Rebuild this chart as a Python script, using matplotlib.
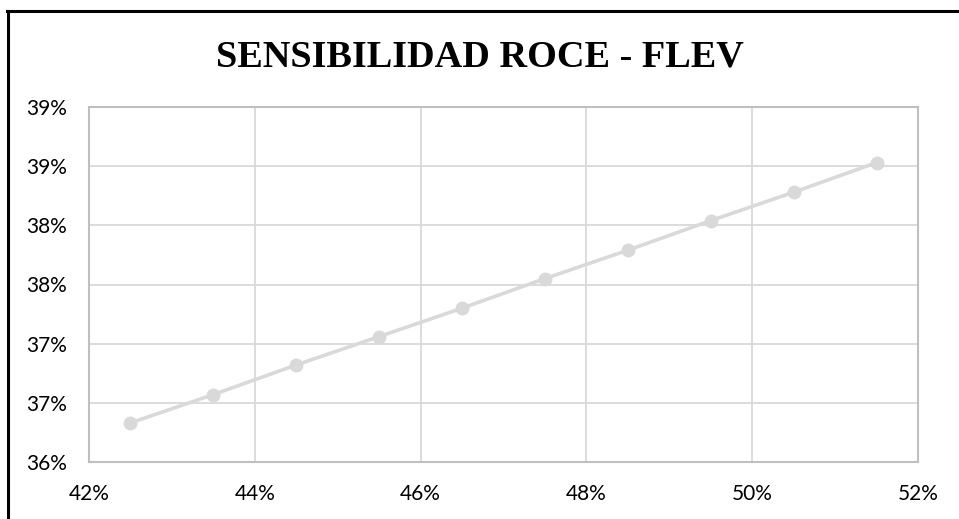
import numpy as np
import matplotlib
matplotlib.use('Agg')
import matplotlib.pyplot as plt
from matplotlib.lines import Line2D

# roce (x) vs flev result (y), both in percent
roce = [42.5, 43.5, 44.5, 45.5, 46.5, 47.5, 48.5, 49.5, 50.5, 51.5]
flev = [36.33, 36.57, 36.82, 37.06, 37.30, 37.55, 37.79, 38.04, 38.28, 38.53]

x_ticks = [42, 44, 46, 48, 50, 52]
x_labels = ['42%', '44%', '46%', '48%', '50%', '52%']
y_ticks = [36.0, 36.5, 37.0, 37.5, 38.0, 38.5, 39.0]
y_labels = ['36%', '37%', '37%', '38%', '38%', '39%', '39%']

W, H = 959, 519
fig = plt.figure(figsize=(W / 100, H / 100), dpi=100)
ax = fig.add_axes([89 / W, 1 - 462 / H, (918 - 89) / W, (462 - 107) / H])

ax.plot(roce, flev, color='#d9d9d9', lw=2.6, marker='o', ms=9,
        markerfacecolor='#d9d9d9', markeredgecolor='#d9d9d9', zorder=3)

ax.set_xlim(42, 52)
ax.set_ylim(36, 39)
ax.set_xticks(x_ticks)
ax.set_xticklabels(x_labels)
ax.set_yticks(y_ticks)
ax.set_yticklabels(y_labels)
ax.grid(True, color='#d9d9d9', lw=1.3)
ax.set_axisbelow(True)
for s in ax.spines.values():
    s.set_color('#bfbfbf')
    s.set_linewidth(1.5)
ax.tick_params(length=0, labelsize=15, colors='#000000')
ax.tick_params(axis='x', pad=16)
ax.tick_params(axis='y', pad=16)
for lab in ax.get_xticklabels() + ax.get_yticklabels():
    lab.set_fontfamily('Lato')

fig.text(0.5, 1 - 57 / H, 'SENSIBILIDAD ROCE - FLEV', ha='center', va='center',
         fontsize=27.5, fontweight='bold', family='Liberation Serif')

# black frame along top and left edge
fig.add_artist(Line2D([7 / W, 1], [1 - 11 / H, 1 - 11 / H], color='black', lw=2.2,
                      transform=fig.transFigure))
fig.add_artist(Line2D([8 / W, 8 / W], [0, 1 - 11 / H], color='black', lw=2.2,
                      transform=fig.transFigure))

fig.savefig('out.png', dpi=100)
